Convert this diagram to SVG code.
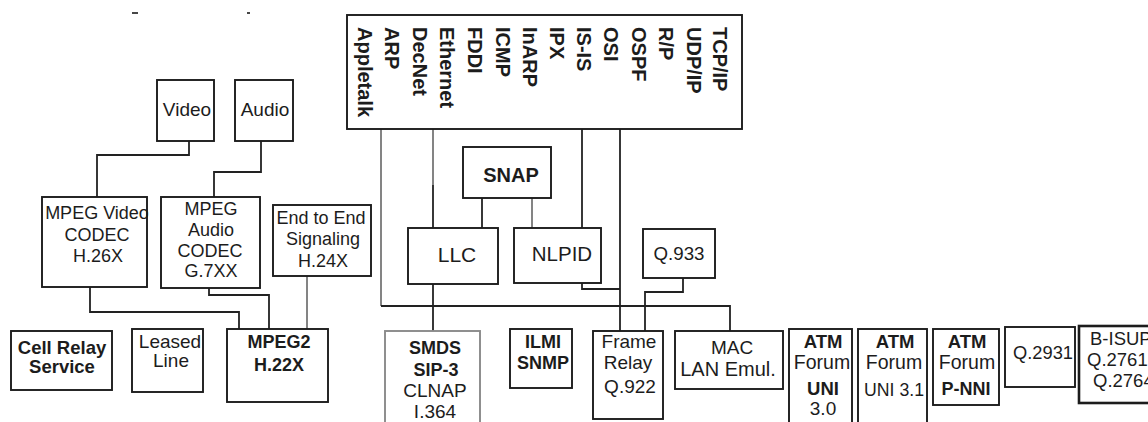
<svg xmlns="http://www.w3.org/2000/svg" width="1148" height="422" viewBox="0 0 1148 422">
  <style>
    .box { fill: #ffffff; stroke: #1c1c1c; stroke-width: 1.9; }
    .box.light { stroke: #8a8a8a; }
    .box.heavy { stroke-width: 2.6; }
    .wire { fill: none; stroke: #222222; stroke-width: 1.8; }
    .wire.g { stroke: #777777; }
    text { font-family: "Liberation Sans", Arial, sans-serif; font-size: 19px; fill: #1c1c1c; text-anchor: middle; }
    .b { font-weight: bold; }
    .v { font-size: 20px; font-weight: bold; text-anchor: start; }
    .s { text-anchor: start; }
  </style>

  <rect width="1148" height="422" fill="#ffffff"/>

  <!-- clipped remnants of a caption above the frame -->
  <g id="caption-marks" stroke="#333" stroke-width="1.8">
    <line x1="132" y1="13" x2="138" y2="13"/>
    <line x1="247" y1="13" x2="250" y2="13"/>
  </g>

  <!-- connectors -->
  <g id="connectors">
    <path class="wire" d="M189,141 V155 H97 V197"/>
    <path class="wire" d="M261,141 V172 H214 V197"/>
    <path class="wire" d="M90,287 V312 H239 V329"/>
    <path class="wire" d="M209,288 V295 H269 V329"/>
    <path class="wire g" d="M307,276 V329"/>
    <path class="wire g" d="M381,129 V306"/>
    <path class="wire" d="M381,306 H730 V331"/>
    <path class="wire g" d="M433,129 V185"/>
    <path class="wire" d="M433,185 V228"/>
    <path class="wire" d="M433,284 V331"/>
    <path class="wire" d="M482,198 V228"/>
    <path class="wire g" d="M532,198 V228"/>
    <path class="wire" d="M582,129 V228"/>
    <path class="wire" d="M582,283 V289 H620"/>
    <path class="wire" d="M620,129 V331"/>
    <path class="wire" d="M683,278 V292 H645 V331"/>
  </g>

  <!-- protocol stack box with vertical labels -->
  <g id="protocols">
    <rect class="box" x="347" y="15" width="395" height="114"/>
    <text class="v" transform="translate(358,27) rotate(90)">Appletalk</text>
    <text class="v" transform="translate(385,27) rotate(90)">ARP</text>
    <text class="v" transform="translate(413,27) rotate(90)">DecNet</text>
    <text class="v" transform="translate(440,27) rotate(90)">Ethernet</text>
    <text class="v" transform="translate(468,27) rotate(90)">FDDI</text>
    <text class="v" transform="translate(496,27) rotate(90)">ICMP</text>
    <text class="v" transform="translate(523,27) rotate(90)">InARP</text>
    <text class="v" transform="translate(550,27) rotate(90)">IPX</text>
    <text class="v" transform="translate(577,27) rotate(90)">IS-IS</text>
    <text class="v" transform="translate(604,27) rotate(90)">OSI</text>
    <text class="v" transform="translate(632,27) rotate(90)">OSPF</text>
    <text class="v" transform="translate(659,27) rotate(90)">R/P</text>
    <text class="v" transform="translate(687,27) rotate(90)">UDP/IP</text>
    <text class="v" transform="translate(713,27) rotate(90)">TCP/IP</text>
  </g>

  <g id="video">
    <rect class="box" x="157" y="80" width="57" height="61"/>
    <text x="187" y="116">Video</text>
  </g>
  <g id="audio">
    <rect class="box" x="235" y="80" width="58" height="61"/>
    <text x="265" y="116">Audio</text>
  </g>

  <g id="mpeg-video">
    <rect class="box" x="42" y="197" width="105" height="90"/>
    <text x="97" y="219" style="font-size:18px">MPEG Video</text>
    <text x="97" y="241" style="font-size:18px">CODEC</text>
    <text x="98" y="262" style="font-size:18px">H.26X</text>
  </g>
  <g id="mpeg-audio">
    <rect class="box" x="161" y="197" width="99" height="91"/>
    <text x="211" y="215" style="font-size:18px">MPEG</text>
    <text x="211" y="236" style="font-size:18px">Audio</text>
    <text x="210" y="257" style="font-size:18px">CODEC</text>
    <text x="211" y="277" style="font-size:18px">G.7XX</text>
  </g>
  <g id="e2e-signaling">
    <rect class="box" x="273" y="205" width="98" height="71"/>
    <text x="321" y="224" style="font-size:18px">End to End</text>
    <text x="323" y="245" style="font-size:18px">Signaling</text>
    <text x="323" y="267" style="font-size:18px">H.24X</text>
  </g>

  <g id="snap">
    <rect class="box" x="463" y="147" width="88" height="51"/>
    <text class="b" x="511" y="182" style="font-size:20px">SNAP</text>
  </g>
  <g id="llc">
    <rect class="box" x="408" y="228" width="90" height="56"/>
    <text x="457" y="262" style="font-size:21px">LLC</text>
  </g>
  <g id="nlpid">
    <rect class="box" x="514" y="228" width="87" height="55"/>
    <text x="562" y="261" style="font-size:20.5px">NLPID</text>
  </g>
  <g id="q933">
    <rect class="box" x="643" y="229" width="72" height="49"/>
    <text x="679" y="260" style="font-size:18.7px">Q.933</text>
  </g>

  <g id="cell-relay">
    <rect class="box" x="11" y="331" width="101" height="59"/>
    <text class="b" x="62" y="354" style="font-size:18.5px">Cell Relay</text>
    <text class="b" x="62" y="373" style="font-size:18.5px">Service</text>
  </g>
  <g id="leased-line">
    <rect class="box" x="132" y="329" width="71" height="63"/>
    <text x="170" y="348">Leased</text>
    <text x="171" y="367">Line</text>
  </g>
  <g id="mpeg2">
    <rect class="box" x="227" y="329" width="101" height="73"/>
    <text class="b" x="279" y="348" style="font-size:18px">MPEG2</text>
    <text class="b" x="279" y="371" style="font-size:18px">H.22X</text>
  </g>

  <g id="smds">
    <rect class="box light" x="385" y="331" width="95" height="100"/>
    <text class="b" x="435" y="354" style="font-size:18px">SMDS</text>
    <text class="b" x="436" y="376" style="font-size:18px">SIP-3</text>
    <text x="435" y="397" style="font-size:19px">CLNAP</text>
    <text x="435" y="418" style="font-size:19px">I.364</text>
  </g>
  <g id="ilmi">
    <rect class="box" x="510" y="329" width="62" height="59"/>
    <text class="b" x="543" y="348" style="font-size:18px">ILMI</text>
    <text class="b" x="543" y="369" style="font-size:18px">SNMP</text>
  </g>
  <g id="frame-relay">
    <rect class="box" x="593" y="331" width="70" height="88"/>
    <text x="629" y="348">Frame</text>
    <text x="628" y="369">Relay</text>
    <text x="630" y="393">Q.922</text>
  </g>
  <g id="mac-lane">
    <rect class="box" x="675" y="331" width="108" height="58"/>
    <text x="732" y="354">MAC</text>
    <text x="728" y="376" style="font-size:20px">LAN Emul.</text>
  </g>

  <g id="atm-uni30">
    <rect class="box" x="789" y="329" width="63" height="100"/>
    <text class="b" x="823" y="348" style="font-size:18.5px">ATM</text>
    <text x="822" y="369" style="font-size:19.5px">Forum</text>
    <text class="b" x="823" y="395" style="font-size:18.5px">UNI</text>
    <text x="823" y="415" style="font-size:19px">3.0</text>
  </g>
  <g id="atm-uni31">
    <rect class="box" x="858" y="329" width="69" height="100"/>
    <text class="b" x="895" y="348" style="font-size:18.5px">ATM</text>
    <text x="894" y="369" style="font-size:19.5px">Forum</text>
    <text x="894" y="396" style="font-size:17.7px">UNI 3.1</text>
  </g>
  <g id="atm-pnni">
    <rect class="box" x="933" y="329" width="66" height="76"/>
    <text class="b" x="967" y="348" style="font-size:18.5px">ATM</text>
    <text x="967" y="369" style="font-size:19.5px">Forum</text>
    <text class="b" x="966" y="395" style="font-size:18px">P-NNI</text>
  </g>
  <g id="q2931">
    <rect class="box" x="1005" y="327" width="70" height="60"/>
    <text x="1043" y="359" style="font-size:18.3px">Q.2931</text>
  </g>
  <g id="b-isup">
    <rect class="box heavy" x="1079" y="326" width="80" height="77"/>
    <text class="s" x="1090" y="345" style="font-size:18.5px">B-ISUP</text>
    <text class="s" x="1087" y="366" style="font-size:18.5px">Q.2761</text>
    <text class="s" x="1093" y="387" style="font-size:18.5px">Q.2764</text>
  </g>
</svg>
